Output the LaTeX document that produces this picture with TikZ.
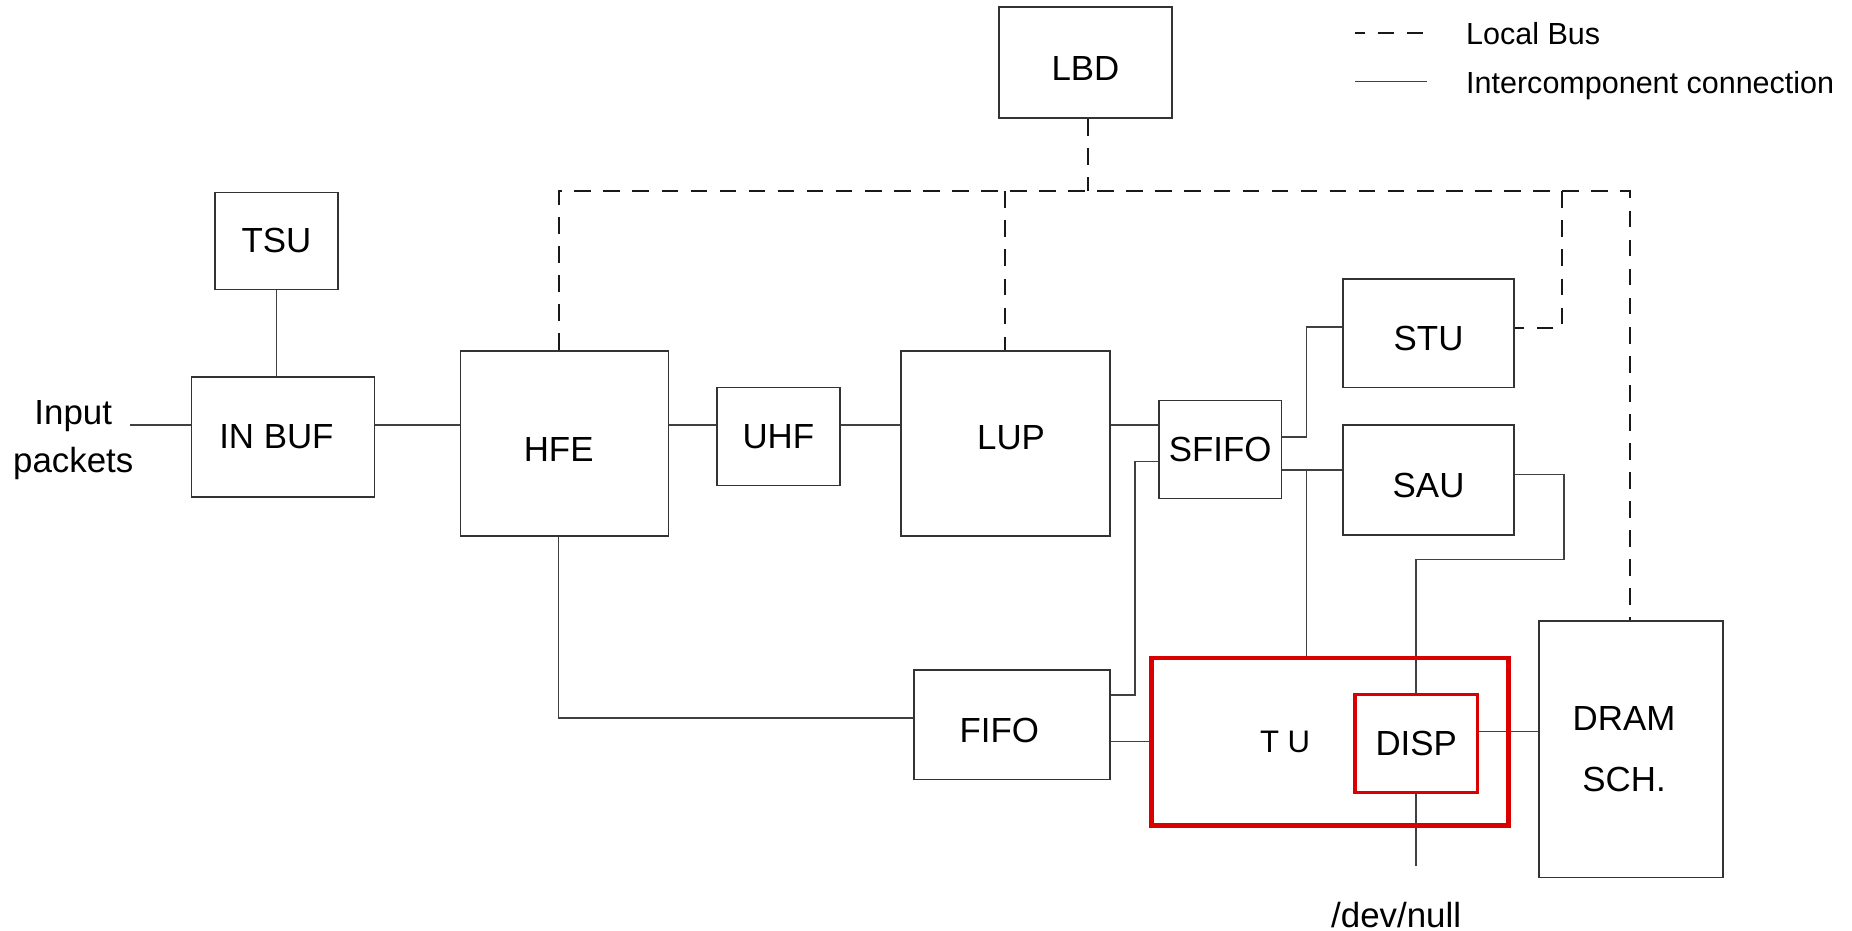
\documentclass[tikz,border=0pt]{standalone}
\usepackage{fontspec}
\setmainfont{Liberation Sans}
\usetikzlibrary{fit}
\definecolor{tured}{RGB}{218,0,0}
\newcommand\mainfs{\fontsize{16.8pt}{20pt}\selectfont}
\newcommand\inpfs{\fontsize{16.8pt}{23.1pt}\selectfont}
\newcommand\dramfs{\fontsize{16.8pt}{29.3pt}\selectfont}
\newcommand\legfs{\fontsize{14.7pt}{17pt}\selectfont}
\newcommand\tufs{\fontsize{15pt}{18pt}\selectfont}
\begin{document}
\begin{tikzpicture}[x=0.02cm,y=-0.02cm,
  box/.style={draw=black!80,line width=0.8pt,inner sep=0pt},
  lab/.style={font=\mainfs,inner sep=0pt},
  wire/.style={draw=black!75,line width=0.7pt},
  bus/.style={draw=black!90,line width=1.1pt,dash pattern=on 8pt off 6pt},
  redbox/.style={draw=tured,inner sep=0pt}]
\useasboundingbox (0,0) rectangle (1568,788);

% boxes
\node[box,fit={(846,6) (992,100)},label={[lab,yshift=-0.1cm]center:LBD}] (lbd) {};
\node[box,fit={(182,163) (286,245)},label={[lab]center:TSU}] (tsu) {};
\node[box,fit={(162,319) (317,421)},label={[lab,xshift=-0.11cm]center:IN BUF}] (inbuf) {};
\node[box,fit={(390,297) (566,454)},label={[lab,xshift=-0.1cm,yshift=-0.1cm]center:HFE}] (hfe) {};
\node[box,fit={(607,328) (711,411)},label={[lab]center:UHF}] (uhf) {};
\node[box,fit={(763,297) (940,454)},label={[lab,xshift=0.09cm,yshift=0.1cm]center:LUP}] (lup) {};
\node[box,fit={(981,339) (1085,422)},label={[lab]center:SFIFO}] (sfifo) {};
\node[box,fit={(1137,236) (1282,328)},label={[lab,yshift=-0.1cm]center:STU}] (stu) {};
\node[box,fit={(1137,360) (1282,453)},label={[lab,yshift=-0.09cm]center:SAU}] (sau) {};
\node[box,fit={(774,567) (940,660)},label={[lab,xshift=-0.22cm,yshift=-0.1cm]center:FIFO}] (fifo) {};
\node[box,fit={(1303,526) (1459,743)},label={[lab,font=\dramfs,align=center,xshift=-0.12cm]center:{DRAM\\SCH.}}] (dram) {};

% free texts
\node[font=\inpfs,align=center,inner sep=0pt] (inp) at (62,373) {Input\\packets};
\node[font=\mainfs,anchor=base,inner sep=0pt] (devnull) at (1182,785) {/dev/null};

% intercomponent connections
\coordinate (inpt) at (110,360);
\draw[wire] (inpt) -- (inpt -| inbuf.west);
\draw[wire] (tsu.south) -- (tsu.south |- inbuf.north);
\draw[wire] (inbuf.east |- 0,360) -- (hfe.west |- 0,360);
\draw[wire] (hfe.east |- 0,360) -- (uhf.west |- 0,360);
\draw[wire] (uhf.east |- 0,360) -- (lup.west |- 0,360);
\draw[wire] (lup.east |- 0,360) -- (sfifo.west |- 0,360);
\draw[wire] (hfe.south -| 473,0) |- (fifo.west |- 0,608);
\draw[wire] (fifo.east |- 0,588.5) -- (961,588.5) |- (sfifo.west |- 0,390.5);
\coordinate (tuw) at (975,628);
\draw[wire] (fifo.east |- tuw) -- (tuw);
\draw[wire] (sfifo.east |- 0,370) -| (1106,277) -- (stu.west |- 0,277);
\draw[wire] (sfifo.east |- 0,398) -- (sau.west |- 0,398);
\coordinate (jn) at (1106,398);
\draw[wire] (jn) -- (1106,557);
\coordinate (dispn) at (1199,588);
\coordinate (disps) at (1199,671);
\coordinate (dispe) at (1251,619.5);
\draw[wire] (sau.east |- 0,401.6) -- (1324,401.6) |- (1199,473.6) -- (dispn);
\draw[wire] (dispe) -- (dram.west |- dispe);
\coordinate (nullend) at (1199,733);
\draw[wire] (disps) -- (nullend);

% TU and DISP (red)
\node[redbox,line width=2.2pt,fit={(975,557) (1277,699)},label={[inner sep=0pt,font=\tufs,xshift=-0.76cm]center:T U}] (tu) {};
\node[redbox,line width=1.8pt,fit={(1147,588) (1251,671)},label={[lab]center:DISP}] (disp) {};

% local bus
\coordinate (busL) at (473,162);
\coordinate (busR) at (1380,162);
\draw[bus] (lbd.south -| 921,0) -- (921,162);
\draw[bus] (hfe.north -| busL) -- (busL) -- (busR) -- (busR |- dram.north);
\draw[bus] (851,162) -- (lup.north -| 851,0);
\draw[bus] (1322.5,162) |- (stu.east |- 0,277.7);

% legend
\coordinate (lgda) at (1147,28);
\coordinate (lgdb) at (1206.5,28);
\coordinate (lgsa) at (1147,69);
\coordinate (lgsb) at (1208,69);
\draw[bus,dash phase=3pt] (lgda) -- (lgdb);
\draw[wire] (lgsa) -- (lgsb);
\node[font=\legfs,anchor=base west,inner sep=0pt] (lgbus) at (1241,38) {Local Bus};
\node[font=\legfs,anchor=base west,inner sep=0pt] (lgwire) at (1241,79) {Intercomponent connection};
\end{tikzpicture}
\end{document}
